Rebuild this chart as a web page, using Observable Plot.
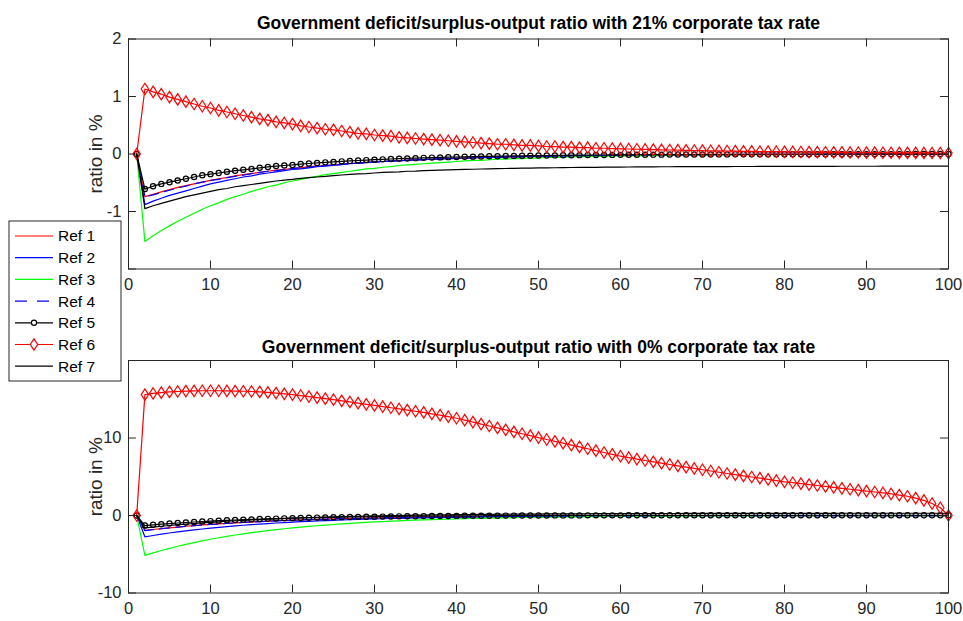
<!DOCTYPE html>
<html>
<head>
<meta charset="utf-8">
<script src="https://cdn.jsdelivr.net/npm/d3@7"></script>
<script src="https://cdn.jsdelivr.net/npm/@observablehq/plot@0.6"></script>
<style>
  html, body { margin: 0; padding: 0; background: #fff; }
  #fig { position: relative; width: 963px; height: 621px; background: #fff; }
  #fig svg { position: absolute; left: 0; }
</style>
</head>
<body>
<div id="fig"></div>
<script>
// Periods 1..100
const periods = d3.range(1, 101);

const seriesNames = ["Ref 1", "Ref 2", "Ref 3", "Ref 4", "Ref 5", "Ref 6", "Ref 7"];

const titleTop = "Government deficit/surplus-output ratio with 21% corporate tax rate";
const titleBottom = "Government deficit/surplus-output ratio with 0% corporate tax rate";
const yLabel = "ratio in %";

const xTicks = [0, 10, 20, 30, 40, 50, 60, 70, 80, 90, 100];
const yTicksTop = [-2, -1, 0, 1, 2];
const yTicksBottom = [-10, 0, 10, 20];

// ---- 21% corporate tax rate ----
const ref1Top = [0,
  -0.74, -0.70, -0.66, -0.62, -0.58, -0.55, -0.52, -0.49, -0.46, -0.43,
  -0.41, -0.38, -0.36, -0.34, -0.32, -0.30, -0.28, -0.27, -0.25, -0.24,
  -0.22, -0.21, -0.20, -0.19, -0.175, -0.165, -0.155, -0.146, -0.138, -0.13,
  -0.122, -0.115, -0.108, -0.102, -0.096, -0.091, -0.085, -0.08, -0.076, -0.071,
  -0.067, -0.063, -0.06, -0.056, -0.053, -0.05, -0.047, -0.044, -0.042, -0.039,
  -0.037, -0.035, -0.033, -0.031, -0.029, -0.027, -0.026, -0.024, -0.023, -0.022,
  -0.02, -0.019, -0.018, -0.017, -0.016, -0.015, -0.014, -0.013, -0.012, -0.012,
  -0.011, -0.01, -0.01, -0.009, -0.009, -0.008, -0.008, -0.007, -0.007, -0.006,
  -0.006, -0.006, -0.005, -0.005, -0.005, -0.004, -0.004, -0.004, -0.004, -0.003,
  -0.003, -0.003, -0.003, -0.003, -0.002, -0.002, -0.002, -0.002, -0.002];

const ref2Top = [0,
  -0.88, -0.82, -0.77, -0.72, -0.68, -0.64, -0.60, -0.56, -0.52, -0.49,
  -0.46, -0.43, -0.40, -0.38, -0.35, -0.33, -0.31, -0.29, -0.27, -0.26,
  -0.24, -0.22, -0.21, -0.20, -0.185, -0.17, -0.16, -0.15, -0.14, -0.13,
  -0.125, -0.117, -0.11, -0.103, -0.097, -0.09, -0.085, -0.08, -0.074, -0.07,
  -0.065, -0.061, -0.057, -0.054, -0.05, -0.047, -0.044, -0.041, -0.039, -0.036,
  -0.034, -0.032, -0.03, -0.028, -0.026, -0.024, -0.023, -0.021, -0.02, -0.019,
  -0.018, -0.017, -0.016, -0.015, -0.014, -0.013, -0.012, -0.011, -0.01, -0.01,
  -0.009, -0.009, -0.008, -0.008, -0.007, -0.007, -0.006, -0.006, -0.005, -0.005,
  -0.005, -0.004, -0.004, -0.004, -0.004, -0.003, -0.003, -0.003, -0.003, -0.003,
  -0.002, -0.002, -0.002, -0.002, -0.002, -0.002, -0.002, -0.002, -0.001];

const ref3Top = [0,
  -1.52, -1.42, -1.33, -1.25, -1.17, -1.10, -1.03, -0.96, -0.90, -0.85,
  -0.79, -0.74, -0.70, -0.65, -0.61, -0.57, -0.54, -0.50, -0.47, -0.44,
  -0.41, -0.39, -0.36, -0.34, -0.32, -0.30, -0.28, -0.26, -0.25, -0.23,
  -0.22, -0.20, -0.19, -0.18, -0.17, -0.16, -0.15, -0.14, -0.13, -0.12,
  -0.11, -0.11, -0.10, -0.09, -0.09, -0.08, -0.08, -0.07, -0.07, -0.06,
  -0.059, -0.055, -0.052, -0.048, -0.045, -0.042, -0.04, -0.037, -0.035, -0.033,
  -0.031, -0.029, -0.027, -0.025, -0.024, -0.022, -0.021, -0.019, -0.018, -0.017,
  -0.016, -0.015, -0.014, -0.013, -0.012, -0.012, -0.011, -0.01, -0.01, -0.009,
  -0.008, -0.008, -0.007, -0.007, -0.006, -0.006, -0.006, -0.005, -0.005, -0.005,
  -0.004, -0.004, -0.004, -0.004, -0.003, -0.003, -0.003, -0.003, -0.003];

const ref4Top = [0,
  -0.75, -0.71, -0.67, -0.63, -0.59, -0.56, -0.52, -0.49, -0.46, -0.44,
  -0.41, -0.39, -0.37, -0.34, -0.32, -0.30, -0.29, -0.27, -0.25, -0.24,
  -0.23, -0.21, -0.20, -0.19, -0.18, -0.17, -0.16, -0.15, -0.14, -0.13,
  -0.124, -0.117, -0.11, -0.104, -0.098, -0.092, -0.086, -0.081, -0.077, -0.072,
  -0.068, -0.064, -0.06, -0.057, -0.054, -0.05, -0.047, -0.045, -0.042, -0.04,
  -0.037, -0.035, -0.033, -0.031, -0.029, -0.028, -0.026, -0.025, -0.023, -0.022,
  -0.02, -0.019, -0.018, -0.017, -0.016, -0.015, -0.014, -0.013, -0.013, -0.012,
  -0.011, -0.011, -0.01, -0.009, -0.009, -0.008, -0.008, -0.007, -0.007, -0.007,
  -0.006, -0.006, -0.005, -0.005, -0.005, -0.005, -0.004, -0.004, -0.004, -0.004,
  -0.003, -0.003, -0.003, -0.003, -0.003, -0.002, -0.002, -0.002, -0.002];

const ref5Top = [0,
  -0.61, -0.56, -0.52, -0.49, -0.46, -0.43, -0.40, -0.37, -0.35, -0.33,
  -0.31, -0.29, -0.275, -0.26, -0.24, -0.225, -0.21, -0.20, -0.19, -0.175,
  -0.165, -0.155, -0.145, -0.137, -0.128, -0.12, -0.113, -0.106, -0.099, -0.093,
  -0.087, -0.082, -0.077, -0.072, -0.067, -0.063, -0.059, -0.055, -0.052, -0.049,
  -0.046, -0.043, -0.04, -0.038, -0.035, -0.033, -0.031, -0.029, -0.027, -0.026,
  -0.024, -0.023, -0.021, -0.02, -0.019, -0.018, -0.017, -0.016, -0.015, -0.014,
  -0.013, -0.012, -0.011, -0.011, -0.01, -0.01, -0.009, -0.009, -0.008, -0.008,
  -0.007, -0.007, -0.006, -0.006, -0.006, -0.005, -0.005, -0.005, -0.004, -0.004,
  -0.004, -0.004, -0.003, -0.003, -0.003, -0.003, -0.003, -0.002, -0.002, -0.002,
  -0.002, -0.002, -0.002, -0.002, -0.001, -0.001, -0.001, -0.001, -0.001];

const ref6Top = [0,
  1.13, 1.08, 1.04, 0.99, 0.95, 0.91, 0.87, 0.83, 0.80, 0.76,
  0.73, 0.70, 0.67, 0.64, 0.61, 0.59, 0.56, 0.54, 0.52, 0.49,
  0.47, 0.45, 0.43, 0.42, 0.40, 0.38, 0.36, 0.35, 0.33, 0.32,
  0.31, 0.29, 0.28, 0.27, 0.26, 0.25, 0.24, 0.23, 0.22, 0.21,
  0.20, 0.19, 0.18, 0.17, 0.17, 0.16, 0.15, 0.15, 0.14, 0.13,
  0.13, 0.12, 0.12, 0.11, 0.11, 0.10, 0.10, 0.095, 0.09, 0.087,
  0.083, 0.08, 0.076, 0.073, 0.07, 0.067, 0.064, 0.061, 0.059, 0.056,
  0.054, 0.052, 0.049, 0.047, 0.045, 0.043, 0.041, 0.04, 0.038, 0.036,
  0.035, 0.033, 0.032, 0.031, 0.029, 0.028, 0.027, 0.026, 0.025, 0.024,
  0.022, 0.022, 0.021, 0.02, 0.019, 0.018, 0.017, 0.017, 0.016];

const ref7Top = [0,
  -0.95, -0.90, -0.86, -0.82, -0.78, -0.74, -0.71, -0.68, -0.65, -0.62,
  -0.60, -0.57, -0.55, -0.53, -0.51, -0.49, -0.47, -0.455, -0.44, -0.425,
  -0.41, -0.40, -0.39, -0.375, -0.365, -0.355, -0.345, -0.34, -0.33, -0.32,
  -0.315, -0.31, -0.30, -0.297, -0.29, -0.286, -0.281, -0.277, -0.273, -0.269,
  -0.265, -0.261, -0.258, -0.255, -0.252, -0.25, -0.247, -0.245, -0.243, -0.24,
  -0.239, -0.237, -0.235, -0.234, -0.232, -0.231, -0.229, -0.228, -0.227, -0.226,
  -0.225, -0.224, -0.223, -0.222, -0.222, -0.221, -0.22, -0.22, -0.219, -0.219,
  -0.218, -0.218, -0.217, -0.217, -0.217, -0.216, -0.216, -0.216, -0.215, -0.215,
  -0.215, -0.214, -0.214, -0.214, -0.214, -0.213, -0.213, -0.213, -0.213, -0.213,
  -0.212, -0.212, -0.212, -0.212, -0.212, -0.212, -0.211, -0.211, -0.211];

// ---- 0% corporate tax rate ----
const ref1Bottom = [0,
  -1.93, -1.81, -1.69, -1.59, -1.49, -1.39, -1.31, -1.22, -1.15, -1.08,
  -1.01, -0.94, -0.88, -0.83, -0.78, -0.73, -0.68, -0.64, -0.60, -0.56,
  -0.53, -0.49, -0.46, -0.43, -0.41, -0.38, -0.36, -0.33, -0.31, -0.29,
  -0.27, -0.26, -0.24, -0.23, -0.21, -0.20, -0.19, -0.17, -0.16, -0.15,
  -0.14, -0.13, -0.13, -0.12, -0.11, -0.10, -0.097, -0.091, -0.085, -0.08,
  -0.075, -0.07, -0.066, -0.062, -0.058, -0.054, -0.051, -0.048, -0.045, -0.042,
  -0.039, -0.037, -0.034, -0.032, -0.03, -0.028, -0.027, -0.025, -0.023, -0.022,
  -0.02, -0.019, -0.018, -0.017, -0.016, -0.015, -0.014, -0.013, -0.012, -0.011,
  -0.011, -0.01, -0.009, -0.009, -0.008, -0.008, -0.007, -0.007, -0.006, -0.006,
  -0.006, -0.005, -0.005, -0.005, -0.004, -0.004, -0.004, -0.004, -0.003];

const ref2Bottom = [0,
  -2.75, -2.58, -2.41, -2.26, -2.12, -1.99, -1.86, -1.74, -1.63, -1.53,
  -1.44, -1.35, -1.26, -1.18, -1.11, -1.04, -0.97, -0.91, -0.85, -0.80,
  -0.75, -0.70, -0.66, -0.62, -0.58, -0.54, -0.51, -0.48, -0.45, -0.42,
  -0.39, -0.37, -0.34, -0.32, -0.30, -0.28, -0.26, -0.25, -0.23, -0.22,
  -0.20, -0.19, -0.18, -0.17, -0.16, -0.15, -0.14, -0.13, -0.12, -0.11,
  -0.107, -0.1, -0.094, -0.088, -0.082, -0.077, -0.072, -0.068, -0.063, -0.059,
  -0.056, -0.052, -0.049, -0.046, -0.043, -0.04, -0.038, -0.035, -0.033, -0.031,
  -0.029, -0.027, -0.026, -0.024, -0.023, -0.021, -0.02, -0.019, -0.017, -0.016,
  -0.015, -0.014, -0.013, -0.013, -0.012, -0.011, -0.01, -0.01, -0.009, -0.008,
  -0.008, -0.007, -0.007, -0.007, -0.006, -0.006, -0.005, -0.005, -0.005];

const ref3Bottom = [0,
  -5.15, -4.83, -4.52, -4.24, -3.97, -3.72, -3.49, -3.27, -3.06, -2.87,
  -2.69, -2.52, -2.36, -2.21, -2.07, -1.94, -1.82, -1.71, -1.60, -1.50,
  -1.40, -1.32, -1.23, -1.16, -1.08, -1.01, -0.95, -0.89, -0.83, -0.78,
  -0.73, -0.69, -0.64, -0.60, -0.56, -0.53, -0.50, -0.47, -0.44, -0.41,
  -0.38, -0.36, -0.34, -0.31, -0.30, -0.28, -0.26, -0.24, -0.23, -0.21,
  -0.20, -0.19, -0.175, -0.165, -0.154, -0.144, -0.135, -0.127, -0.118, -0.111,
  -0.104, -0.098, -0.091, -0.086, -0.08, -0.075, -0.07, -0.066, -0.062, -0.058,
  -0.055, -0.051, -0.048, -0.045, -0.042, -0.039, -0.037, -0.035, -0.032, -0.03,
  -0.028, -0.027, -0.025, -0.023, -0.022, -0.021, -0.019, -0.018, -0.017, -0.016,
  -0.015, -0.014, -0.013, -0.012, -0.011, -0.011, -0.01, -0.009, -0.009];

const ref4Bottom = [0,
  -1.95, -1.83, -1.71, -1.60, -1.50, -1.41, -1.32, -1.24, -1.16, -1.09,
  -1.02, -0.95, -0.89, -0.84, -0.79, -0.74, -0.69, -0.65, -0.61, -0.57,
  -0.53, -0.50, -0.47, -0.44, -0.41, -0.38, -0.36, -0.34, -0.32, -0.30,
  -0.28, -0.26, -0.24, -0.23, -0.21, -0.20, -0.19, -0.18, -0.16, -0.15,
  -0.14, -0.14, -0.13, -0.12, -0.11, -0.10, -0.098, -0.092, -0.086, -0.081,
  -0.076, -0.071, -0.067, -0.063, -0.059, -0.055, -0.052, -0.048, -0.045, -0.043,
  -0.04, -0.037, -0.035, -0.033, -0.031, -0.029, -0.027, -0.025, -0.024, -0.022,
  -0.021, -0.019, -0.018, -0.017, -0.016, -0.015, -0.014, -0.013, -0.012, -0.012,
  -0.011, -0.01, -0.01, -0.009, -0.008, -0.008, -0.007, -0.007, -0.007, -0.006,
  -0.006, -0.005, -0.005, -0.005, -0.004, -0.004, -0.004, -0.004, -0.003];

const ref5Bottom = [0,
  -1.30, -1.20, -1.12, -1.04, -0.97, -0.90, -0.84, -0.78, -0.72, -0.67,
  -0.62, -0.58, -0.54, -0.50, -0.46, -0.43, -0.40, -0.37, -0.34, -0.32,
  -0.29, -0.27, -0.25, -0.23, -0.21, -0.19, -0.18, -0.16, -0.15, -0.14,
  -0.12, -0.11, -0.10, -0.09, -0.08, -0.07, -0.065, -0.055, -0.05, -0.04,
  -0.035, -0.03, -0.025, -0.02, -0.015, -0.01, -0.005, 0, 0.004, 0.007,
  0.01, 0.012, 0.014, 0.016, 0.018, 0.019, 0.02, 0.021, 0.022, 0.023,
  0.024, 0.025, 0.025, 0.026, 0.026, 0.027, 0.027, 0.028, 0.028, 0.028,
  0.029, 0.029, 0.029, 0.029, 0.03, 0.03, 0.03, 0.03, 0.03, 0.03,
  0.03, 0.03, 0.03, 0.03, 0.03, 0.03, 0.03, 0.03, 0.03, 0.03,
  0.03, 0.03, 0.03, 0.03, 0.03, 0.03, 0.03, 0.03, 0.03];

const ref6Bottom = [
  0, 15.6, 15.75, 15.85, 15.95, 16.0, 16.05, 16.08, 16.1, 16.1,
  16.1, 16.08, 16.06, 16.03, 16.0, 15.95, 15.88, 15.8, 15.7, 15.6,
  15.48, 15.35, 15.22, 15.08, 14.94, 14.8, 14.65, 14.5, 14.35, 14.2,
  14.05, 13.9, 13.75, 13.6, 13.45, 13.3, 13.12, 12.95, 12.75, 12.55,
  12.3, 12.05, 11.8, 11.55, 11.3, 11.05, 10.8, 10.55, 10.3, 10.05,
  9.81, 9.57, 9.33, 9.09, 8.85, 8.61, 8.37, 8.13, 7.89, 7.65,
  7.46, 7.28, 7.1, 6.92, 6.75, 6.58, 6.41, 6.24, 6.07, 5.9,
  5.74, 5.58, 5.42, 5.27, 5.12, 4.97, 4.82, 4.67, 4.51, 4.35,
  4.23, 4.11, 3.99, 3.87, 3.75, 3.63, 3.51, 3.39, 3.27, 3.15,
  3.03, 2.91, 2.78, 2.64, 2.48, 2.25, 1.95, 1.55, 1.0, 0];

const ref7Bottom = [0,
  -1.60, -1.49, -1.39, -1.29, -1.19, -1.11, -1.03, -0.95, -0.88, -0.81,
  -0.74, -0.68, -0.62, -0.57, -0.52, -0.47, -0.43, -0.39, -0.35, -0.31,
  -0.27, -0.24, -0.21, -0.18, -0.15, -0.12, -0.10, -0.08, -0.05, -0.03,
  -0.01, 0.0, 0.02, 0.04, 0.05, 0.07, 0.08, 0.09, 0.11, 0.12,
  0.13, 0.14, 0.15, 0.16, 0.16, 0.17, 0.18, 0.19, 0.19, 0.20,
  0.205, 0.21, 0.215, 0.22, 0.225, 0.23, 0.235, 0.24, 0.243, 0.246,
  0.25, 0.252, 0.254, 0.256, 0.258, 0.26, 0.262, 0.264, 0.266, 0.268,
  0.27, 0.272, 0.274, 0.275, 0.276, 0.278, 0.279, 0.28, 0.281, 0.282,
  0.283, 0.284, 0.285, 0.286, 0.287, 0.288, 0.288, 0.289, 0.289, 0.29,
  0.29, 0.29, 0.29, 0.29, 0.29, 0.29, 0.29, 0.29, 0.29];

// ---- styling ----
const FONT = "'Liberation Sans', Arial, Helvetica, sans-serif";
const INK = "#262626";
const RED = "#ff0000", BLUE = "#0000ff", GREEN = "#00ff00", BLACK = "#000000";
const DASH = "10,6";
const LW = 1.2;

// Tall open diamond (marker for Ref 6)
const tallDiamond = {
  draw(context, size) {
    const r = Math.sqrt(size / Math.PI);
    context.moveTo(0, -1.55 * r);
    context.lineTo(r, 0);
    context.lineTo(0, 1.55 * r);
    context.lineTo(-r, 0);
    context.closePath();
  }
};

const styles = [
  {stroke: RED},
  {stroke: BLUE},
  {stroke: GREEN},
  {stroke: BLUE, dash: DASH},
  {stroke: BLACK, marker: "circle"},
  {stroke: RED, marker: "diamond"},
  {stroke: BLACK}
];

function rowsOf(values) {
  return periods.map((t, i) => ({t, v: values[i]}));
}

function panel({series, yDomain, yTicks, title, titleGap, height, marginTop, marginBottom, top}) {
  const marginLeft = 128, marginRight = 15, width = 963;
  const innerW = width - marginLeft - marginRight;
  const innerH = height - marginTop - marginBottom;
  const marks = [];
  series.forEach((values, k) => {
    const s = styles[k];
    const data = rowsOf(values);
    marks.push(Plot.line(data, {x: "t", y: "v", stroke: s.stroke, strokeWidth: LW, strokeDasharray: s.dash}));
    if (s.marker === "circle") {
      marks.push(Plot.dot(data, {x: "t", y: "v", r: 2.6, stroke: s.stroke, strokeWidth: 1.2, fill: "none"}));
    } else if (s.marker === "diamond") {
      marks.push(Plot.dot(data, {x: "t", y: "v", r: 3.7, symbol: tallDiamond, stroke: s.stroke, strokeWidth: 1.2, fill: "none"}));
    }
  });
  const svg = Plot.plot({
    width, height, marginLeft, marginRight, marginTop, marginBottom,
    style: {fontFamily: FONT, color: INK, background: "transparent", overflow: "visible"},
    x: {domain: [0, 100]},
    y: {domain: yDomain},
    marks: [
      ...marks,
      Plot.frame({stroke: INK, strokeWidth: 1}),
      // inward tick marks on all four sides
      Plot.tickX(xTicks, {x: d => d, insetTop: innerH - 8, stroke: INK}),
      Plot.tickX(xTicks, {x: d => d, insetBottom: innerH - 8, stroke: INK}),
      Plot.tickY(yTicks, {y: d => d, insetRight: innerW - 8, stroke: INK}),
      Plot.tickY(yTicks, {y: d => d, insetLeft: innerW - 8, stroke: INK}),
      Plot.axisX({ticks: xTicks, tickSize: 0, tickPadding: 9, fontSize: 16.5, tickFormat: d => String(d), label: null}),
      Plot.axisY({ticks: yTicks, tickSize: 0, tickPadding: 7, fontSize: 16.5, tickFormat: d => String(d), label: null}),
      Plot.text([yLabel], {text: d => d, frameAnchor: "left", textAnchor: "middle", lineAnchor: "middle", dx: -33, rotate: -90, fontSize: 19, fill: INK}),
      Plot.text([title], {text: d => d, frameAnchor: "top", textAnchor: "middle", lineAnchor: "middle", dy: -titleGap, fontSize: 17.5, fontWeight: "bold", fill: "#000"})
    ]
  });
  svg.style.top = top + "px";
  return svg;
}

const fig = document.getElementById("fig");

fig.appendChild(panel({
  series: [ref1Top, ref2Top, ref3Top, ref4Top, ref5Top, ref6Top, ref7Top],
  yDomain: [-2, 2], yTicks: yTicksTop, title: titleTop, titleGap: 16,
  height: 300, marginTop: 38.5, marginBottom: 31.5, top: 0
}));

fig.appendChild(panel({
  series: [ref1Bottom, ref2Bottom, ref3Bottom, ref4Bottom, ref5Bottom, ref6Bottom, ref7Bottom],
  yDomain: [-10, 20], yTicks: yTicksBottom, title: titleBottom, titleGap: 13,
  height: 321, marginTop: 60, marginBottom: 28.5, top: 300
}));

// Legend box to the left of the panels
const lgW = 112, lgH = 160, rowGap = 21.7, row0 = 15;
const legend = d3.create("svg")
  .attr("width", lgW + 2).attr("height", lgH + 2)
  .style("left", "8px").style("top", "220px").style("z-index", 5)
  .style("font-family", FONT);
legend.append("rect").attr("x", 1).attr("y", 1).attr("width", lgW).attr("height", lgH)
  .attr("fill", "#fff").attr("stroke", INK).attr("stroke-width", 1);
seriesNames.forEach((name, k) => {
  const s = styles[k];
  const y = row0 + 1 + k * rowGap;
  const g = legend.append("g");
  g.append("line").attr("x1", 7).attr("x2", 45).attr("y1", y).attr("y2", y)
    .attr("stroke", s.stroke).attr("stroke-width", LW)
    .attr("stroke-dasharray", s.dash ? "12,10" : null);
  if (s.marker === "circle") {
    g.append("circle").attr("cx", 26).attr("cy", y).attr("r", 2.6)
      .attr("fill", "#fff").attr("stroke", s.stroke).attr("stroke-width", 1.2);
  } else if (s.marker === "diamond") {
    g.append("path").attr("d", `M26,${y - 5.7}L29.7,${y}L26,${y + 5.7}L22.3,${y}Z`)
      .attr("fill", "#fff").attr("stroke", s.stroke).attr("stroke-width", 1.2);
  }
  g.append("text").attr("x", 50).attr("y", y).attr("dy", "0.35em")
    .attr("font-size", 15.5).attr("fill", "#000").text(name);
});
fig.appendChild(legend.node());
</script>
</body>
</html>
